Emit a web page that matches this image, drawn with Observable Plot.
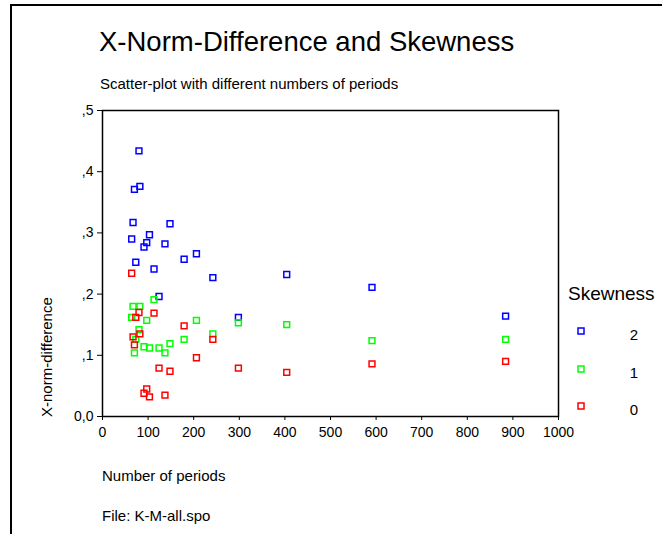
<!DOCTYPE html>
<html>
<head>
<meta charset="utf-8">
<script src="https://cdn.jsdelivr.net/npm/d3@7"></script>
<script src="https://cdn.jsdelivr.net/npm/@observablehq/plot@0.6"></script>
<style>
  html, body { margin: 0; padding: 0; background: #fff; }
  #wrap { position: relative; width: 662px; height: 534px; overflow: hidden; font-family: "Liberation Sans", Arial, sans-serif; }
  #border { position: absolute; left: 10px; top: 4px; right: -4px; bottom: -4px; border-top: 2px solid #000; border-left: 2px solid #000; }
  #plot, #overlay { position: absolute; left: 0; top: 0; }
</style>
</head>
<body>
<div id="wrap">
  <div id="border"></div>
  <div id="plot"></div>
  <svg id="overlay" width="662" height="534"></svg>
</div>
<script>
// Number of periods (shared by all three skewness groups)
const periods = [64, 67, 70, 73, 80, 82, 91, 97, 103, 113, 124, 137, 148, 179, 206, 242, 298, 404, 591, 884];
// X-norm-difference per skewness level
const skew2 = [0.290, 0.317, 0.371, 0.252, 0.434, 0.376, 0.277, 0.284, 0.297, 0.241, 0.196, 0.282, 0.315, 0.257, 0.266, 0.227, 0.162, 0.232, 0.211, 0.164];
const skew1 = [0.162, 0.180, 0.104, 0.126, 0.142, 0.180, 0.114, 0.157, 0.112, 0.191, 0.112, 0.104, 0.119, 0.126, 0.157, 0.135, 0.153, 0.150, 0.124, 0.126];
const skew0 = [0.234, 0.130, 0.117, 0.162, 0.170, 0.135, 0.038, 0.045, 0.032, 0.169, 0.079, 0.035, 0.074, 0.148, 0.096, 0.126, 0.079, 0.072, 0.086, 0.090];
const levels = ["2", "1", "0"];
const colors = ["#0000ff", "#00ff00", "#ff0000"];
const xTicks = [0, 100, 200, 300, 400, 500, 600, 700, 800, 900, 1000];
const yTicks = [0, 0.1, 0.2, 0.3, 0.4, 0.5];
const yTickLabels = ["0,0", ",1", ",2", ",3", ",4", ",5"];

const series = [skew2, skew1, skew0];
const data = [];
series.forEach((vals, i) => vals.forEach((v, j) => data.push({periods: periods[j], diff: v, skew: levels[i]})));
const yFmt = d => yTickLabels[yTicks.findIndex(t => Math.abs(t - d) < 1e-9)];

const chart = Plot.plot({
  width: 662,
  height: 534,
  marginLeft: 102,
  marginRight: 104,
  marginTop: 110,
  marginBottom: 118,
  style: {fontFamily: "'Liberation Sans', Arial, sans-serif", fontSize: "14px", color: "#000", background: "transparent"},
  x: {domain: [0, 1000], label: null},
  y: {domain: [0, 0.5], label: null},
  color: {domain: levels, range: colors},
  marks: [
    Plot.frame({stroke: "#000", strokeWidth: 1.5}),
    Plot.dot(data, {x: "periods", y: "diff", stroke: "skew", symbol: "square", r: 3.3, strokeWidth: 1.5, fill: "none"}),
    Plot.axisX({ticks: xTicks, tickSize: 4, tickPadding: 7, fontSize: 14, tickFormat: d => String(d)}),
    Plot.axisY({ticks: yTicks, tickSize: 5, tickPadding: 4, fontSize: 14, tickFormat: yFmt})
  ]
});
document.getElementById("plot").appendChild(chart);

// Titles, axis labels, caption and legend
const svg = d3.select("#overlay").style("font-family", "'Liberation Sans', Arial, sans-serif");
svg.append("text").attr("x", 99).attr("y", 51).attr("font-size", 27.5).text("X-Norm-Difference and Skewness");
svg.append("text").attr("x", 100).attr("y", 89).attr("font-size", 15).text("Scatter-plot with different numbers of periods");
svg.append("text").attr("x", 102).attr("y", 481).attr("font-size", 15).text("Number of periods");
svg.append("text").attr("x", 102).attr("y", 521).attr("font-size", 15).text("File: K-M-all.spo");
svg.append("text").attr("transform", "translate(52,417) rotate(-90)").attr("font-size", 15).text("X-norm-difference");

svg.append("text").attr("x", 568).attr("y", 300).attr("font-size", 19).text("Skewness");
const legY = [331, 369, 406];
levels.forEach((l, i) => {
  svg.append("rect").attr("x", 578).attr("y", legY[i] - 3).attr("width", 6).attr("height", 6)
    .attr("fill", "none").attr("stroke", colors[i]).attr("stroke-width", 1.5);
  svg.append("text").attr("x", 634).attr("y", legY[i] + 9).attr("font-size", 15).attr("text-anchor", "middle").text(l);
});
</script>
</body>
</html>
